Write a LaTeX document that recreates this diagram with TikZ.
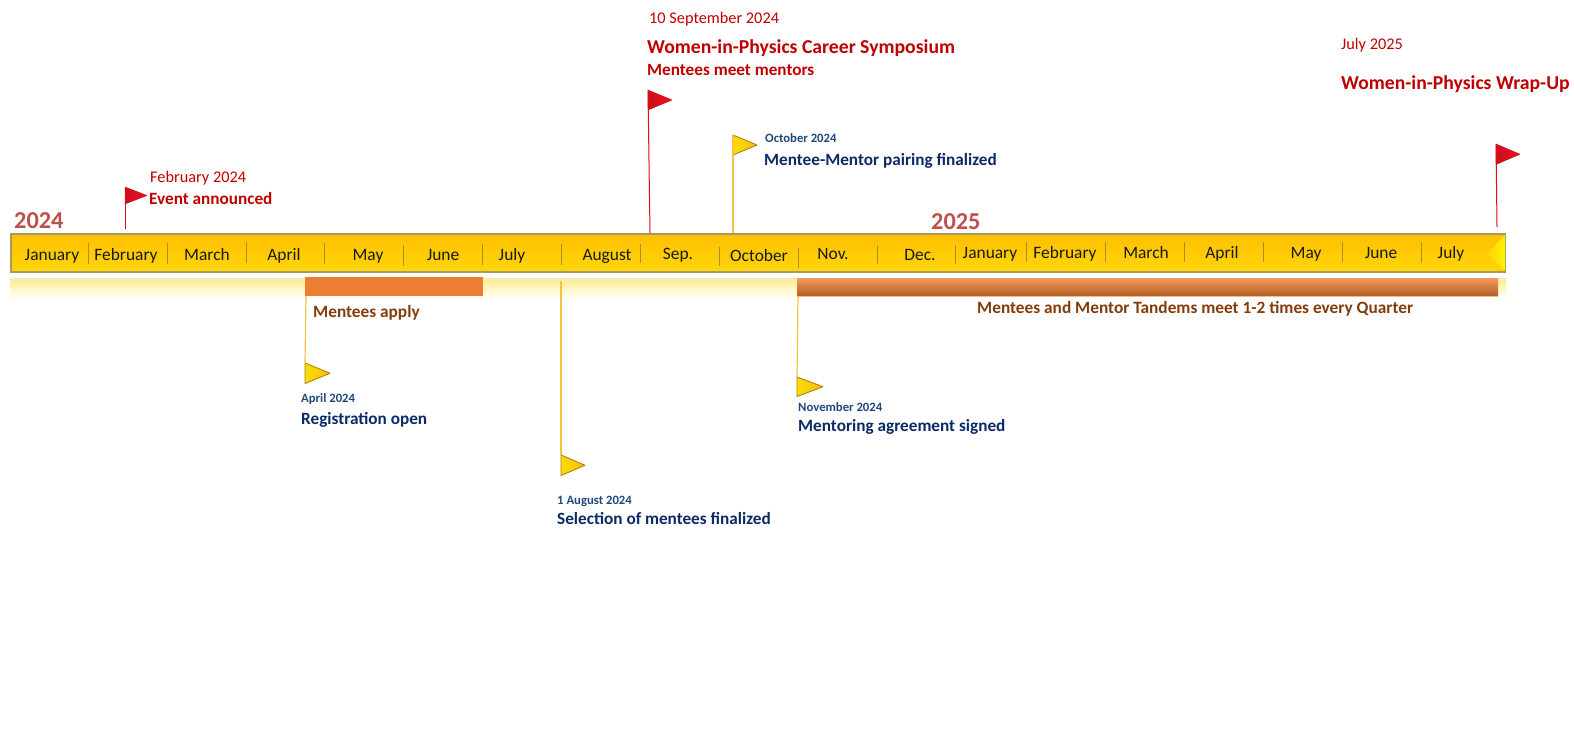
\documentclass[tikz,border=0pt]{standalone}
\usepackage{fontspec}
\setmainfont{Carlito}
\usetikzlibrary{calc}
\definecolor{barTop}{HTML}{FFBF00}
\definecolor{barBot}{HTML}{FFD60A}
\definecolor{barEdge}{HTML}{A89A5A}
\definecolor{yearRed}{HTML}{C0504D}
\definecolor{evRed}{HTML}{C00000}
\definecolor{navy}{HTML}{0B2A66}
\definecolor{dateBlue}{HTML}{1F497D}
\definecolor{brownT}{HTML}{843C0C}
\definecolor{orangeB}{HTML}{ED7D31}
\definecolor{sepC}{HTML}{A88F2A}
\definecolor{flagRed}{HTML}{F01020}
\definecolor{flagYel}{HTML}{F8BE0E}
\definecolor{poleY}{HTML}{F5C242}
\tikzset{
  x=1pt,y=-1pt,
  month/.style={anchor=base,inner sep=0pt,font=\fontsize{17.4}{19}\selectfont,text=black!90},
  year/.style={anchor=base west,inner sep=0pt,font=\fontsize{24.3}{26}\selectfont\bfseries,text=yearRed},
  dateR/.style={anchor=base west,inner sep=0pt,font=\fontsize{16.3}{18}\selectfont,text=evRed},
  titleR/.style={anchor=base west,inner sep=0pt,font=\fontsize{17.2}{19}\selectfont\bfseries,text=evRed},
  bigR/.style={anchor=base west,inner sep=0pt,font=\fontsize{19.7}{22}\selectfont\bfseries,text=evRed},
  dateB/.style={anchor=base west,inner sep=0pt,font=\fontsize{12.7}{14}\selectfont\bfseries,text=dateBlue},
  titleB/.style={anchor=base west,inner sep=0pt,font=\fontsize{17.2}{19}\selectfont\bfseries,text=navy},
  titleO/.style={anchor=base west,inner sep=0pt,font=\fontsize{17.3}{19}\selectfont\bfseries,text=brownT},
  sepline/.style={draw=sepC,line width=0.9pt},
  redpole/.style={draw=flagRed!92!black,line width=1pt},
  yelpole/.style={draw=poleY,line width=1.2pt},
  redflag/.style={draw=flagRed!80!black,line width=0.4pt,left color=flagRed!85!black,right color=flagRed,line join=round},
  yelflag/.style={draw=black!30!flagYel,line width=0.9pt,left color=yellow!45!flagYel,right color=flagYel,line join=round},
}
% #1 name, #2 x, #3 top y, #4 tip x, #5 height, #6 style
\newcommand{\flagshape}[6]{%
  \coordinate (#1) at (#2,#3);
  \path[#6] (#2,#3) -- (#4,#3+#5/2) -- (#2,#3+#5) -- cycle;}
\begin{document}
\begin{tikzpicture}
\useasboundingbox (0,0) rectangle (1574,751);
\fill[white] (0,0) rectangle (1574,751);
% glow strip
\shade[top color=barBot!45!white,bottom color=white] (10,279) rectangle (1506,299);
\draw[black!8,line width=0.8pt] (10,279) -- (1506,279);
% bar
\draw[draw=barEdge,line width=2pt,top color=barTop,bottom color=barBot] (11,233.8) rectangle (1505,272.2);
\shade[left color=barBot!80!barTop,right color=yellow!70!barBot] (1505,235) -- (1487,253) -- (1505,271) -- cycle;
\coordinate (barFeb) at (125,229);
\coordinate (barSep) at (650,233);
\coordinate (barOct) at (733,233);
\coordinate (barJul) at (1497,227);
\coordinate (stripApr) at (306,296);
\coordinate (stripAug) at (561,281);
\coordinate (stripNov) at (798,296);
% separators
\foreach \x/\a/\b in {88/243/264,167/243/264,246/242/263,324/243/264,403/245/266,482/244/265,561/244/265,640/244/263,719/247/266,798/248/268,877/245/264,955.5/245/264,1026/242/262,1105/242/262,1184/242/262,1263/242/262,1342/242/262,1421/243/263}
  \draw[sepline] (\x,\a) -- (\x,\b);
% months
\node[month] (m1) at (52,261) {January};
\node[month] (m2) at (126,261) {February};
\node[month] (m3) at (207,261) {March};
\node[month] (m4) at (284,261) {April};
\node[month] (m5) at (368,261) {May};
\node[month] (m6) at (443,261) {June};
\node[month] (m7) at (512,261) {July};
\node[month] (m8) at (607,261) {August};
\node[month] (m9) at (678,260) {Sep.};
\node[month] (m10) at (759,262) {October};
\node[month] (m11) at (833,260) {Nov.};
\node[month] (m12) at (920,261) {Dec.};
\node[month] (m13) at (990,259) {January};
\node[month] (m14) at (1065,259) {February};
\node[month] (m15) at (1146,259) {March};
\node[month] (m16) at (1222,259) {April};
\node[month] (m17) at (1306,259) {May};
\node[month] (m18) at (1381,259) {June};
\node[month] (m19) at (1451,259) {July};
% years
\node[year] (y24) at (14,229) {2024};
\node[year] (y25) at (931,230) {2025};
% orange bars
\fill[orangeB] (305,277) rectangle (483,296);
\shade[top color=orangeB!80!white,middle color=orangeB!90!black,bottom color=orangeB!75!black] (797,279) rectangle (1498,296);
\fill[orangeB!55!white] (797,296) rectangle (1498,297);
% flags and poles
\flagshape{fFeb}{125}{187}{147}{17}{redflag}
\flagshape{fSep}{648}{90}{672}{20}{redflag}
\flagshape{fOct}{733}{135}{757}{20}{yelflag}
\flagshape{fJul}{1496}{144}{1520}{20.5}{redflag}
\flagshape{fApr}{305}{363}{330}{20.5}{yelflag}
\flagshape{fAug}{561}{455}{585}{20.5}{yelflag}
\flagshape{fNov}{797}{377}{823}{19.5}{yelflag}
\draw[redpole] (fFeb) -- (barFeb);
\draw[redpole] (fSep) -- (barSep);
\draw[yelpole] (fOct) -- (barOct);
\draw[redpole] (fJul) -- (barJul);
\draw[yelpole] (stripApr) -- (fApr);
\draw[yelpole] (stripAug) -- (fAug);
\draw[yelpole] (stripNov) -- (fNov);
% texts
\node[dateR] (t1) at (150,183) {February 2024};
\node[titleR] (t2) at (149,205) {Event announced};
\node[dateR] (t3) at (649,24) {10 September 2024};
\node[bigR] (t4) at (647,54) {Women-in-Physics Career Symposium};
\node[titleR] (t5) at (647,76) {Mentees meet mentors};
\node[dateB] (t6) at (765,143) {October 2024};
\node[titleB] (t7) at (764,165.5) {Mentee-Mentor pairing finalized};
\node[dateR] (t8) at (1341,49.5) {July 2025};
\node[bigR] (t9) at (1341,90) {Women-in-Physics Wrap-Up};
\node[titleO] (t10) at (313,317) {Mentees apply};
\node[titleO] (t11) at (977,313) {Mentees and Mentor Tandems meet 1-2 times every Quarter};
\node[dateB] (t12) at (301,402.5) {April 2024};
\node[titleB] (t13) at (301,424) {Registration open};
\node[dateB] (t14) at (798,411.5) {November 2024};
\node[titleB] (t15) at (798,431) {Mentoring agreement signed};
\node[dateB] (t16) at (557,504) {1 August 2024};
\node[titleB] (t17) at (557,524) {Selection of mentees finalized};
\end{tikzpicture}
\end{document}
